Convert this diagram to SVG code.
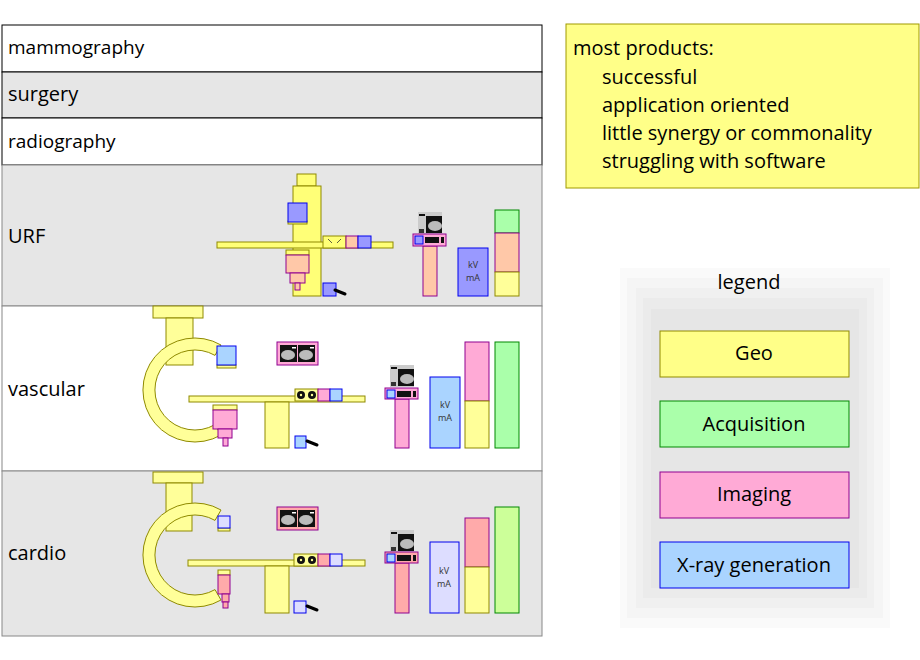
<svg xmlns="http://www.w3.org/2000/svg" width="920" height="660" viewBox="0 0 920 660">
<style>
text{font-family:"Open Sans","Liberation Sans",sans-serif;fill:#000}
.row{stroke:#000;stroke-width:1}
.g{fill:#ffff77;stroke:#8f8a00;stroke-width:1}
.gl{fill:#ffff99;stroke:#8f8a00;stroke-width:1}
.pk{fill:#ffaad6;stroke:#900090;stroke-width:1}
.sal{fill:#ffc8a8;stroke:#900090;stroke-width:1}
.red{fill:#ffaaaa;stroke:#900090;stroke-width:1}
.bl{fill:#aad4ff;stroke:#0000ee;stroke-width:1}
.bd{fill:#9999ff;stroke:#0000ee;stroke-width:1}
.lav{fill:#ddddff;stroke:#0000ee;stroke-width:1}
.gr{fill:#aaffaa;stroke:#008800;stroke-width:1}
.lg{fill:#ccff99;stroke:#008800;stroke-width:1}
.scr{fill:#111}
.disc{fill:#aaa}
.ped{stroke:#000;stroke-width:3;stroke-linecap:round}
.lbl{font-size:20px}
.kv{font-size:9px;fill:#333}
</style>
<defs>
<g id="ws">
<rect x="0" y="0" width="24" height="22" fill="#ccc"/>
<rect x="8" y="4" width="16" height="17" fill="#111"/>
<ellipse cx="17" cy="14" rx="7" ry="5" fill="#bbb"/>
<rect x="1" y="2" width="6" height="2" fill="#111"/>
<rect x="1" y="17" width="5" height="4" fill="#333"/>
</g>
<g id="mon2">
<rect x="3" y="3" width="17" height="17" fill="#111"/>
<rect x="21" y="3" width="17" height="17" fill="#111"/>
<ellipse cx="11" cy="13" rx="7" ry="5" fill="#bbb"/>
<ellipse cx="29" cy="13" rx="7" ry="5" fill="#bbb"/>
<rect x="15" y="5" width="4" height="1.5" fill="#fff"/>
<rect x="33" y="5" width="4" height="1.5" fill="#fff"/>
</g>
</defs>

<g id="rows">
<rect class="row" x="2" y="25" width="540" height="47" fill="#fff"/>
<rect class="row" x="2" y="72" width="540" height="46" fill="#e6e6e6"/>
<rect class="row" x="2" y="118" width="540" height="47" fill="#fff"/>
<rect x="2" y="165" width="540" height="141" fill="#e6e6e6" stroke="#888"/>
<rect x="2" y="306" width="540" height="165" fill="#fff" stroke="#888"/>
<rect x="2" y="471" width="540" height="165" fill="#e6e6e6" stroke="#888"/>
<text x="8" y="54" font-size="19">mammography</text>
<text x="8" y="101" font-size="20">surgery</text>
<text x="8" y="148" font-size="19">radiography</text>
<text x="8" y="243" class="lbl">URF</text>
<text x="8" y="396" class="lbl">vascular</text>
<text x="8" y="560" class="lbl">cardio</text>
</g>

<g id="urf">
<rect class="g" x="297" y="174" width="19" height="12"/>
<rect class="g" x="293" y="186" width="28" height="110"/>
<rect class="g" x="288" y="221" width="19" height="3"/>
<rect class="bd" x="288" y="203" width="19" height="19"/>
<rect class="g" x="217" y="242" width="176" height="6"/>
<rect class="g" x="323" y="236" width="23" height="12"/>
<path d="M328,239 l4,4 M341,239 l-4,4" stroke="#333" stroke-width="0.8"/>
<rect class="sal" x="346" y="236" width="12" height="12"/>
<rect class="bd" x="358" y="236" width="13" height="12"/>
<rect class="g" x="286" y="250" width="23" height="5"/>
<rect class="sal" x="286" y="255" width="23" height="18"/>
<rect class="sal" x="290" y="273" width="15" height="10"/>
<rect class="sal" x="295" y="283" width="5" height="7"/>
<rect class="bd" x="323" y="283" width="13" height="13"/>
<line class="ped" x1="335" y1="290" x2="345" y2="294"/>
<use href="#ws" x="418" y="212"/>
<rect class="sal" x="423" y="246" width="14" height="50"/>
<rect class="pk" x="413" y="234" width="33" height="12"/>
<rect class="bd" x="415" y="236" width="8" height="8"/>
<rect x="425" y="237" width="14" height="6" fill="#111"/>
<rect x="441" y="237" width="3" height="6" fill="#111"/>
<rect class="bd" x="458" y="248" width="30" height="48"/>
<text x="473" y="268" class="kv" text-anchor="middle">kV</text>
<text x="473" y="281" class="kv" text-anchor="middle">mA</text>
<rect class="gr" x="495" y="210" width="24" height="23"/>
<rect class="sal" x="495" y="233" width="24" height="39"/>
<rect class="gl" x="495" y="272" width="24" height="24"/>
</g>

<g id="vascular">
<rect class="gl" x="153" y="306" width="50" height="12"/>
<rect class="gl" x="166" y="318" width="27" height="47"/>
<path class="gl" d="M221,345 A52,52 0 1 0 221,435 L215,424.6 A40,40 0 1 1 215,355.4 Z"/>
<rect class="gl" x="217" y="365" width="19" height="3"/>
<rect class="bl" x="217" y="346" width="19" height="19"/>
<rect class="gl" x="213" y="405" width="24" height="5"/>
<rect class="pk" x="213" y="410" width="24" height="19"/>
<rect class="pk" x="218" y="429" width="14" height="9"/>
<rect class="pk" x="223" y="438" width="5" height="8"/>
<rect class="gl" x="189" y="396" width="176" height="6"/>
<rect class="gl" x="265" y="402" width="24" height="46"/>
<rect class="gl" x="295" y="389" width="23" height="12"/>
<circle cx="301" cy="395" r="4" fill="#111"/><circle cx="301" cy="395" r="1.2" fill="#ffff99"/>
<circle cx="312" cy="395" r="4" fill="#111"/><circle cx="312" cy="395" r="1.2" fill="#ffff99"/>
<rect class="pk" x="318" y="389" width="12" height="12"/>
<rect class="bl" x="330" y="389" width="12" height="12"/>
<rect class="bl" x="295" y="436" width="11" height="12"/>
<line class="ped" x1="307" y1="441" x2="317" y2="445"/>
<rect class="pk" x="277" y="342" width="41" height="23"/>
<use href="#mon2" x="277" y="342"/>
<use href="#ws" x="390" y="365"/>
<rect class="pk" x="395" y="399" width="14" height="49"/>
<rect class="pk" x="385" y="388" width="33" height="11"/>
<rect class="bl" x="387" y="390" width="8" height="8"/>
<rect x="397" y="391" width="14" height="6" fill="#111"/>
<rect x="413" y="391" width="3" height="6" fill="#111"/>
<rect class="bl" x="430" y="377" width="30" height="71"/>
<text x="445" y="408" class="kv" text-anchor="middle">kV</text>
<text x="445" y="421" class="kv" text-anchor="middle">mA</text>
<rect class="pk" x="465" y="342" width="24" height="59"/>
<rect class="gl" x="465" y="401" width="24" height="47"/>
<rect class="gr" x="495" y="342" width="24" height="106"/>
</g>

<g id="cardio">
<rect class="gl" x="153" y="472" width="50" height="11"/>
<rect class="gl" x="166" y="483" width="26" height="48"/>
<path class="gl" d="M221,510 A52,52 0 1 0 221,600 L215,589.6 A40,40 0 1 1 215,520.4 Z"/>
<rect class="gl" x="218" y="528" width="12" height="3"/>
<rect class="lav" x="218" y="516" width="12" height="12"/>
<rect class="gl" x="218" y="570" width="12" height="5"/>
<rect class="red" x="218" y="575" width="12" height="19"/>
<rect class="red" x="222" y="594" width="7" height="8"/>
<rect class="red" x="223" y="602" width="5" height="6"/>
<rect class="gl" x="188" y="560" width="177" height="6"/>
<rect class="gl" x="265" y="566" width="24" height="47"/>
<rect class="gl" x="294" y="554" width="24" height="12"/>
<circle cx="301" cy="560" r="4" fill="#111"/><circle cx="301" cy="560" r="1.2" fill="#ffff99"/>
<circle cx="312" cy="560" r="4" fill="#111"/><circle cx="312" cy="560" r="1.2" fill="#ffff99"/>
<rect class="red" x="318" y="554" width="12" height="12"/>
<rect class="lav" x="330" y="554" width="12" height="12"/>
<rect class="lav" x="294" y="601" width="12" height="12"/>
<line class="ped" x1="307" y1="606" x2="317" y2="610"/>
<rect class="red" x="277" y="507" width="41" height="23"/>
<use href="#mon2" x="277" y="507"/>
<use href="#ws" x="390" y="530"/>
<rect class="red" x="395" y="563" width="14" height="50"/>
<rect class="red" x="385" y="552" width="33" height="11"/>
<rect class="bl" x="387" y="554" width="8" height="8"/>
<rect x="397" y="555" width="14" height="6" fill="#111"/>
<rect x="413" y="555" width="3" height="6" fill="#111"/>
<rect class="lav" x="430" y="542" width="29" height="71"/>
<text x="444" y="574" class="kv" text-anchor="middle">kV</text>
<text x="444" y="587" class="kv" text-anchor="middle">mA</text>
<rect class="red" x="465" y="518" width="24" height="49"/>
<rect class="gl" x="465" y="567" width="24" height="46"/>
<rect class="lg" x="495" y="507" width="24" height="106"/>
</g>

<g id="notes">
<rect x="566" y="24" width="353" height="164" fill="#ffff88" stroke="#a09a00"/>
<text x="573" y="55" font-size="20">most products:</text>
<text x="602" y="84" font-size="20">successful</text>
<text x="602" y="112" font-size="20">application oriented</text>
<text x="602" y="140" font-size="20">little synergy or commonality</text>
<text x="602" y="168" font-size="20">struggling with software</text>
</g>

<g id="legend">
<rect x="620" y="268" width="270" height="360" fill="#fafafa"/>
<rect x="627" y="278" width="256" height="340" fill="#f5f5f5"/>
<rect x="636" y="288" width="238" height="320" fill="#f0f0f0"/>
<rect x="643" y="298" width="224" height="300" fill="#ebebeb"/>
<rect x="651" y="309" width="208" height="279" fill="#e6e6e6"/>
<text x="749" y="289" font-size="20" text-anchor="middle">legend</text>
<rect x="660" y="331" width="189" height="46" fill="#ffff88" stroke="#8f8a00"/>
<text x="754" y="360" font-size="20" text-anchor="middle">Geo</text>
<rect x="660" y="401" width="189" height="46" fill="#aaffaa" stroke="#008800"/>
<text x="754" y="431" font-size="20" text-anchor="middle">Acquisition</text>
<rect x="660" y="472" width="189" height="46" fill="#ffaad6" stroke="#900090"/>
<text x="754" y="501" font-size="20" text-anchor="middle">Imaging</text>
<rect x="660" y="542" width="189" height="46" fill="#aad4ff" stroke="#0000ee"/>
<text x="754" y="572" font-size="20" text-anchor="middle">X-ray generation</text>
</g>
</svg>
